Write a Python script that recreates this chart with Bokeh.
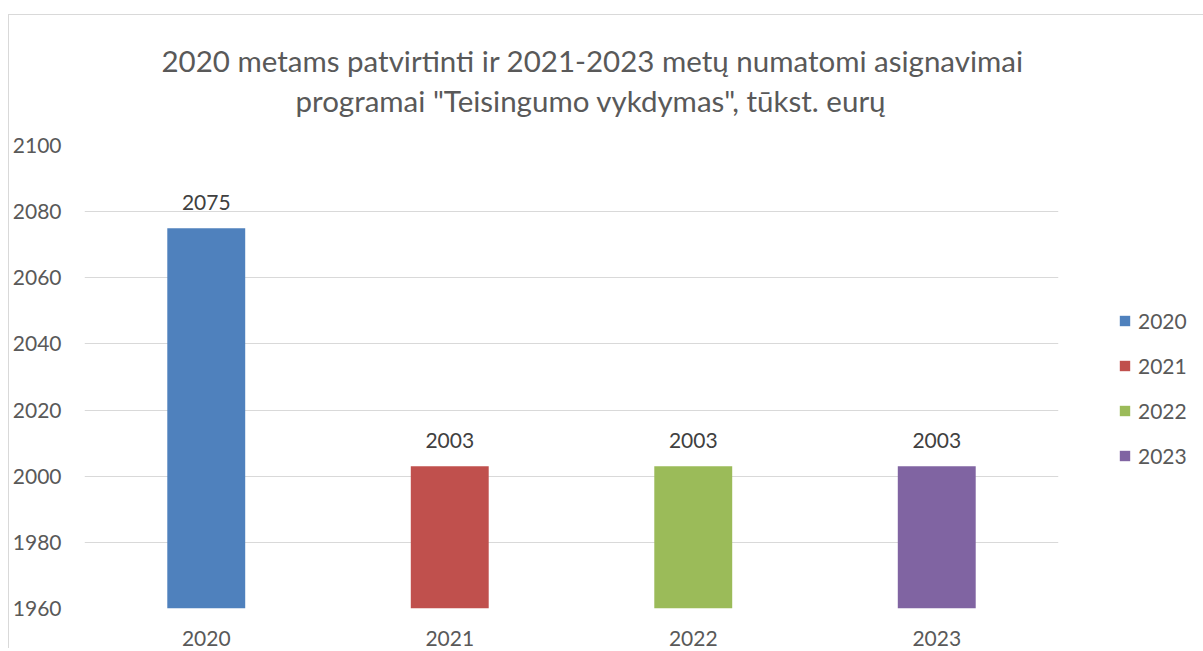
from bokeh.plotting import figure
from bokeh.models import ColumnDataSource, LabelSet, Legend, LegendItem, Range1d, Title, FixedTicker
from bokeh.core.properties import value
from bokeh.embed import file_html
from bokeh.resources import INLINE

years = ["2020", "2021", "2022", "2023"]
values = [2075, 2003, 2003, 2003]
colors = ["#4F81BD", "#C0504D", "#9BBB59", "#8064A2"]
y_ticks = [1960, 1980, 2000, 2020, 2040, 2060, 2080, 2100]
title_lines = ["2020 metams patvirtinti ir 2021-2023 metų numatomi asignavimai",
               "programai \"Teisingumo vykdymas\", tūkst. eurų"]

FONT = "Lato"
TXT = "#595959"
FS = "21px"
BORDER = "#d9d9d9"

src = ColumnDataSource(dict(x=years, top=values, color=colors, label=[str(v) for v in values]))

p = figure(x_range=years, frame_width=974, frame_height=463, output_backend="svg", toolbar_location=None,
           min_border_left=84, min_border_right=137, min_border_top=145, min_border_bottom=40)
p.y_range = Range1d(y_ticks[0], y_ticks[-1])
p.outline_line_color = None
p.background_fill_color = "white"
p.border_fill_alpha = 0
# chart-area border (left and top edges), drawn as CSS background behind the transparent border fill
p.styles = {
    "background-image": (f"linear-gradient(to right, transparent 8px, {BORDER} 8px, {BORDER} 9px, transparent 9px), "
                         f"linear-gradient(to bottom, transparent 14px, {BORDER} 14px, {BORDER} 15px, transparent 15px)"),
    "background-position": "0px 14px, 8px 0px",
    "background-size": "100% 100%, 100% 100%",
    "background-repeat": "no-repeat",
}

r = p.vbar(x="x", top="top", bottom=0, width=0.32, fill_color="color", line_color=None, source=src)

p.add_layout(LabelSet(x="x", y="top", text="label", source=src, y_offset=18, text_align="center",
                      text_baseline="alphabetic", text_font=value(FONT), text_font_size=FS,
                      text_color="#404040"))

p.xgrid.grid_line_color = None
p.ygrid.grid_line_color = BORDER
p.ygrid.grid_line_width = 1
p.yaxis.ticker = FixedTicker(ticks=y_ticks)
for ax in (p.xaxis[0], p.yaxis[0]):
    ax.axis_line_color = None
    ax.major_tick_line_color = None
    ax.minor_tick_line_color = None
    ax.major_tick_out = 0
    ax.major_tick_in = 0
    ax.major_label_text_font = FONT
    ax.major_label_text_font_size = FS
    ax.major_label_text_color = TXT
p.yaxis.major_label_standoff = 23
p.xaxis.major_label_standoff = 22

items = [LegendItem(label=y, renderers=[r], index=i) for i, y in enumerate(years)]
legend = Legend(items=items, location=(60, 140), border_line_color=None, background_fill_alpha=0,
                glyph_width=13, glyph_height=13, label_standoff=7, spacing=20,
                label_text_font=FONT, label_text_font_size=FS, label_text_color=TXT,
                label_height=22, margin=0, padding=0)
p.add_layout(legend, "right")

# empty spacer panel nearest the frame, then the second title line, then the first (p.title, outermost)
p.add_layout(Title(text=" ", text_font_size="1px", standoff=23), "above")
p.add_layout(Title(text=title_lines[1], align="left", offset=211, text_font=FONT,
                   text_font_size="29.5px", text_font_style="normal", text_color=TXT,
                   standoff=3), "above")
p.title.text = title_lines[0]
p.title.align = "left"
p.title.offset = 77
p.title.text_font = FONT
p.title.text_font_size = "29.5px"
p.title.text_font_style = "normal"
p.title.text_color = TXT
p.title.standoff = 3

open("out.html", "w").write(file_html(p, INLINE))
